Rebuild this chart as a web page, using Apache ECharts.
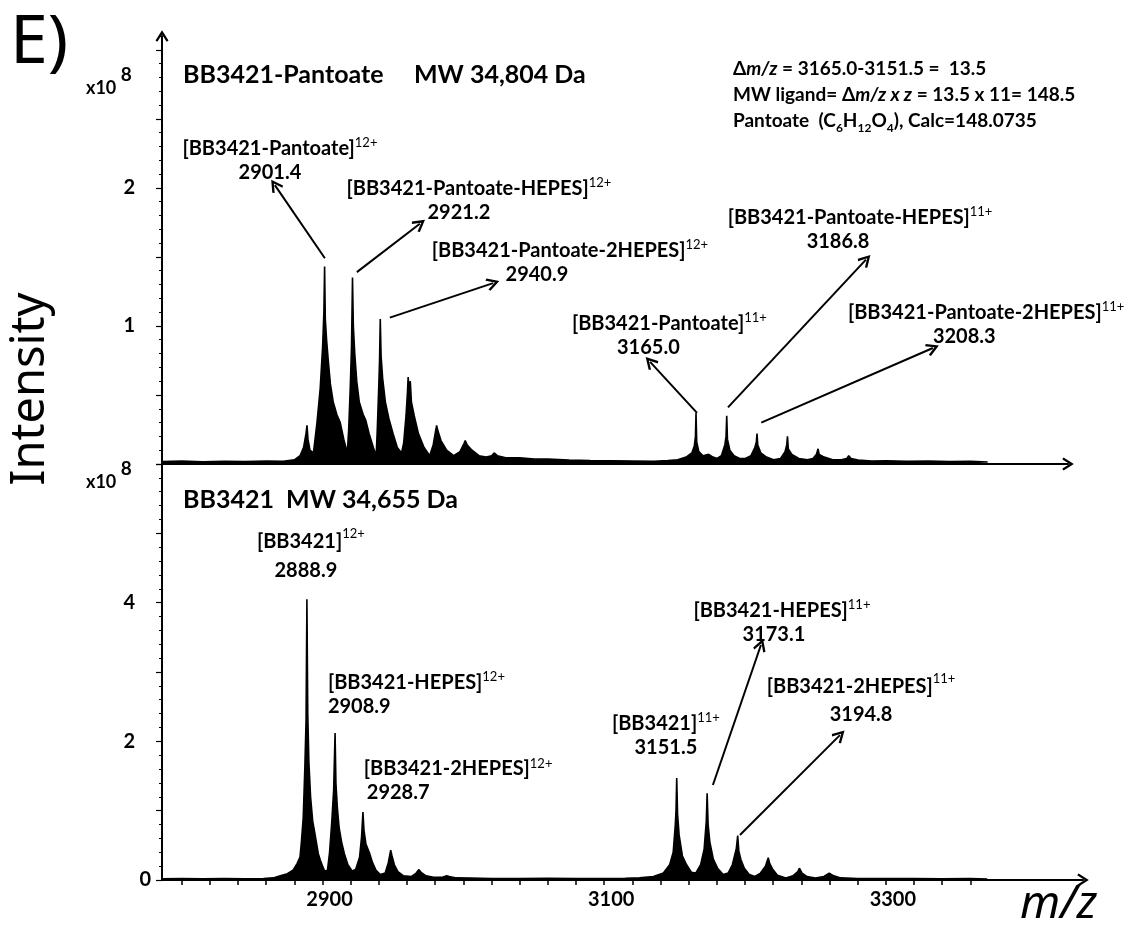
<!DOCTYPE html>
<html>
<head>
<meta charset="utf-8">
<script src="https://cdn.jsdelivr.net/npm/echarts@6/dist/echarts.min.js"></script>
<style>
  html, body { margin: 0; padding: 0; background: #fff; }
  #chart { width: 1135px; height: 930px; }
</style>
</head>
<body>
<div id="chart"></div>
<script>
// ---------- spectra: m/z and intensity (x10^8) ----------
// BB3421-Pantoate
const topMz = [
  2786, 2800, 2815, 2830, 2845, 2860, 2872, 2880, 2884, 2886.5, 2888.2, 2888.9, 2889.6, 2891, 2893.5,
  2896.0, 2898.3, 2900.0, 2900.9, 2901.4, 2901.9, 2902.8, 2904.0, 2905.5, 2907.5, 2908.9, 2910.0, 2912.5, 2915.0, 2917.5,
  2918.5, 2919.6, 2920.5, 2921.2, 2921.8, 2922.8, 2924.2, 2926.0, 2928.7, 2930.5, 2933, 2936, 2938,
  2938.8, 2939.8, 2940.4, 2940.9, 2941.5, 2942.6, 2944.5, 2947, 2950, 2953, 2956,
  2957.5, 2959.2, 2960.2, 2960.7, 2961.4, 2962.2, 2963, 2965, 2968, 2972, 2976,
  2978.5, 2980.2, 2980.9, 2981.8, 2984, 2988, 2993, 2997.5, 3000.4, 3001.2, 3002.5, 3006, 3011, 3016,
  3020, 3021.7, 3024, 3030, 3040, 3050, 3060, 3075, 3090, 3105, 3120, 3135, 3145, 3152, 3158,
  3162, 3163.8, 3164.6, 3165.0, 3165.5, 3167, 3170, 3174, 3177, 3180,
  3183, 3185.5, 3186.3, 3186.8, 3187.3, 3189, 3192, 3196, 3200,
  3204, 3206.8, 3207.8, 3208.3, 3208.8, 3211, 3215, 3220,
  3225, 3228.2, 3229.4, 3229.9, 3230.5, 3233, 3238, 3244,
  3248, 3250.5, 3251.6, 3252.4, 3256, 3262, 3268, 3272, 3273.4, 3275,
  3280, 3290, 3300, 3315, 3330, 3345, 3360, 3372
];
const topIntensity = [
  0.018, 0.022, 0.016, 0.02, 0.017, 0.022, 0.02, 0.03, 0.06, 0.12, 0.22, 0.28, 0.18, 0.10, 0.08,
  0.30, 0.55, 0.85, 1.10, 1.43, 1.05, 0.90, 0.75, 0.58, 0.45, 0.40, 0.36, 0.30, 0.18, 0.08,
  0.25, 0.55, 0.85, 1.35, 1.00, 0.80, 0.60, 0.45, 0.36, 0.32, 0.22, 0.12, 0.06,
  0.25, 0.55, 0.75, 1.05, 0.78, 0.62, 0.45, 0.33, 0.22, 0.12, 0.08,
  0.15, 0.35, 0.52, 0.63, 0.52, 0.60, 0.45, 0.35, 0.22, 0.12, 0.06,
  0.14, 0.24, 0.28, 0.24, 0.17, 0.10, 0.06, 0.09, 0.15, 0.17, 0.14, 0.10, 0.06, 0.05,
  0.06, 0.08, 0.06, 0.045, 0.045, 0.035, 0.035, 0.028, 0.025, 0.024, 0.022, 0.02, 0.025, 0.03, 0.05,
  0.08, 0.13, 0.20, 0.37, 0.16, 0.09, 0.06, 0.07, 0.05, 0.04,
  0.06, 0.14, 0.20, 0.35, 0.18, 0.10, 0.06, 0.04, 0.04,
  0.06, 0.12, 0.16, 0.22, 0.14, 0.08, 0.05, 0.03,
  0.04, 0.09, 0.14, 0.20, 0.11, 0.07, 0.04, 0.03,
  0.04, 0.07, 0.11, 0.07, 0.05, 0.03, 0.03, 0.04, 0.06, 0.04,
  0.028, 0.022, 0.024, 0.02, 0.022, 0.018, 0.02, 0.014
];
// BB3421
const bottomMz = [
  2786, 2800, 2815, 2830, 2845, 2858, 2865, 2870, 2875, 2879, 2882, 2884, 2885, 2886.3, 2887.4, 2888.3, 2888.9,
  2889.5, 2890.3, 2891.5, 2893, 2895, 2897, 2898.5, 2900, 2901.5,
  2903.5, 2905.0, 2906.6, 2907.9, 2908.9, 2909.5, 2910.5, 2911.8, 2913.5, 2915.5, 2918, 2921,
  2923.5, 2926.3, 2927.7, 2928.7, 2929.4, 2930.8, 2933.5, 2935.5, 2938, 2941,
  2944.5, 2946.7, 2948.4, 2949.3, 2951, 2953.5, 2957.5,
  2963, 2966.5, 2968.3, 2970, 2973.5, 2979, 2985, 2988.2, 2990, 2995,
  3005, 3020, 3040, 3060, 3080, 3100, 3115, 3125, 3135, 3142, 3146.5, 3149,
  3150.5, 3151.0, 3151.5, 3152.1, 3153.2, 3155.5, 3158.5, 3162, 3165,
  3168.5, 3171, 3172.5, 3173.1, 3173.8, 3175, 3177.5, 3180.5, 3184.5,
  3188, 3191, 3193.8, 3194.8, 3195.6, 3197, 3199.5, 3203, 3207,
  3211, 3214.5, 3216.5, 3217.5, 3219.5, 3223, 3229,
  3234, 3237.5, 3238.6, 3240.5, 3244, 3250, 3256, 3259.8, 3263, 3268,
  3280, 3300, 3320, 3340, 3360, 3372
];
const bottomIntensity = [
  0.018, 0.022, 0.016, 0.02, 0.017, 0.022, 0.03, 0.06, 0.09, 0.14, 0.24, 0.33, 0.55, 0.90, 1.60, 2.30, 4.05,
  2.40, 1.70, 1.20, 0.85, 0.62, 0.38, 0.28, 0.20, 0.13,
  0.14, 0.40, 0.85, 1.30, 2.12, 1.40, 1.05, 0.75, 0.55, 0.38, 0.22, 0.13,
  0.15, 0.33, 0.62, 0.98, 0.72, 0.52, 0.38, 0.25, 0.14, 0.08,
  0.10, 0.25, 0.43, 0.35, 0.22, 0.12, 0.06,
  0.05, 0.10, 0.15, 0.11, 0.06, 0.04, 0.04, 0.06, 0.05, 0.03,
  0.028, 0.022, 0.02, 0.024, 0.02, 0.022, 0.025, 0.03, 0.05, 0.10, 0.22, 0.40,
  0.80, 1.00, 1.47, 0.95, 0.65, 0.35, 0.22, 0.11, 0.10,
  0.22, 0.45, 0.85, 1.25, 0.80, 0.55, 0.30, 0.17, 0.08,
  0.10, 0.22, 0.45, 0.64, 0.42, 0.30, 0.17, 0.08, 0.05,
  0.10, 0.20, 0.32, 0.24, 0.16, 0.07, 0.03,
  0.06, 0.12, 0.17, 0.10, 0.05, 0.03, 0.05, 0.10, 0.06, 0.03,
  0.022, 0.02, 0.022, 0.018, 0.02, 0.014
];

// ---------- tick labels ----------
const mzTickLabels = [2900, 3100, 3300];
const topIntensityLabels = [1, 2];
const bottomIntensityLabels = [2, 4];
const bottomZeroLabel = [0];

// ---------- peak assignments ----------
const topIons = ['[BB3421-Pantoate]', '[BB3421-Pantoate-HEPES]', '[BB3421-Pantoate-2HEPES]',
                 '[BB3421-Pantoate]', '[BB3421-Pantoate-HEPES]', '[BB3421-Pantoate-2HEPES]'];
const topCharges = ['12+', '12+', '12+', '11+', '11+', '11+'];
const topPeakMz = [2901.4, 2921.2, 2940.9, 3165.0, 3186.8, 3208.3];

const bottomIons = ['[BB3421]', '[BB3421-HEPES]', '[BB3421-2HEPES]',
                    '[BB3421]', '[BB3421-HEPES]', '[BB3421-2HEPES]'];
const bottomCharges = ['12+', '12+', '12+', '11+', '11+', '11+'];
const bottomPeakMz = [2888.9, 2908.9, 2928.7, 3151.5, 3173.1, 3194.8];

// ---------- panel texts ----------
const topTitle = 'BB3421-Pantoate     MW 34,804 Da';
const bottomTitle = 'BB3421  MW 34,655 Da';

// ---------- callout placement: anchor in axis units [m/z, intensity], second line nudge in px ----------
const topCalloutLayout = [
  { label: [2869.7, 2.20], nudge: -10, from: [2901.6, 1.49], to: [2866.1, 2.02] },
  { label: [3010.9, 1.91], nudge: -20, from: [2924.3, 1.39], to: [2969.0, 1.74] },
  { label: [3075.5, 1.46], nudge: -33, from: [2947.7, 1.06], to: [3021.0, 1.31] },
  { label: [3146.1, 0.93], nudge: -21, from: [3165.7, 0.37], to: [3132.4, 0.74] },
  { label: [3281.4, 1.70], nudge: -22, from: [3187.7, 0.41], to: [3285.6, 1.48] },
  { label: [3272.8, 1.01], nudge: 85, align: 'left', from: [3211.3, 0.30], to: [3333.1, 0.84] }
];
const bottomCalloutLayout = [
  { label: [2891.7, 4.67], nudge: -5, lineHeight: 29 },
  { label: [2903.8, 2.68], align: 'left' },
  { label: [2929.3, 1.43], nudge: 3, align: 'left' },
  { label: [3143.8, 2.09] },
  { label: [3226.2, 3.72], nudge: -8, from: [3177.2, 1.37], to: [3211.3, 3.39] },
  { label: [3282.4, 2.59], lineHeight: 28, from: [3196.4, 0.65], to: [3267.4, 2.09] }
];

const FONT = 'Lato';
const INK = '#000';
// open chevron arrow head, drawn pointing up and rotated by the library
const ARROW = 'path://M7,0 L14,11 L12,12.5 L7,4.5 L2,12.5 L0,11 Z';

function range(start, stop, step) {
  const out = [];
  for (let v = start; v <= stop + 1e-9; v += step) out.push(Math.round(v * 1000) / 1000);
  return out;
}

function calloutLabel(ion, charge, mz, layout) {
  const align = layout.align || 'center';
  const lh = layout.lineHeight || 24;
  const nudge = layout.nudge || 0;
  // move the value line sideways by padding one side of it
  let pad;
  if (align === 'left') pad = [0, 0, 0, Math.max(nudge, 0)];
  else pad = nudge >= 0 ? [0, 0, 0, 2 * nudge] : [0, -2 * nudge, 0, 0];
  return {
    show: true,
    position: 'inside',
    align: align,
    verticalAlign: 'middle',
    formatter: '{n|' + ion + '}{s|' + charge + '}\n{v|' + mz.toFixed(1) + '}',
    rich: {
      n: { fontFamily: FONT, fontSize: 20, fontWeight: 'bold', color: INK, lineHeight: lh, align: align },
      s: { fontFamily: FONT, fontSize: 13, color: INK, lineHeight: 14, verticalAlign: 'top', align: align },
      v: { fontFamily: FONT, fontSize: 20, fontWeight: 'bold', color: INK, lineHeight: lh, align: align, padding: pad }
    }
  };
}

function spectrumSeries(mz, intensity, xi, yi, ions, charges, peaks, layout) {
  return {
    type: 'line',
    xAxisIndex: xi,
    yAxisIndex: yi,
    data: mz.map((m, i) => [m, intensity[i]]),
    symbol: 'none',
    showSymbol: false,
    silent: true,
    lineStyle: { color: INK, width: 1.6 },
    areaStyle: { color: INK, opacity: 1 },
    z: 3,
    markLine: {
      silent: true,
      animation: false,
      symbol: ['none', ARROW],
      symbolSize: 13,
      lineStyle: { color: INK, width: 2, type: 'solid' },
      label: { show: false },
      data: layout.filter(c => c.from).map(c => [{ coord: c.from }, { coord: c.to }])
    },
    markPoint: {
      silent: true,
      animation: false,
      symbol: 'circle',
      symbolSize: 1,
      itemStyle: { color: 'rgba(0,0,0,0)' },
      data: ions.map((ion, i) => ({
        coord: layout[i].label,
        label: calloutLabel(ion, charges[i], peaks[i], layout[i])
      }))
    }
  };
}

const axisLineStyle = { color: INK, width: 2 };
const tickFont = { fontFamily: FONT, fontSize: 20, fontWeight: 'bold', color: INK };
const plain = v => String(v);

const option = {
  backgroundColor: '#fff',
  animation: false,
  grid: [
    { left: 162, top: 36, width: 906, height: 428, outerBoundsMode: 'none' },
    { left: 162, top: 464, width: 921, height: 416, outerBoundsMode: 'none' }
  ],
  xAxis: [
    {
      type: 'value', gridIndex: 0, min: 2786, max: 3429,
      axisLine: { show: true, lineStyle: axisLineStyle, symbol: ['none', ARROW], symbolSize: [13, 13] },
      axisTick: { show: false }, axisLabel: { show: false }, splitLine: { show: false }
    },
    {
      type: 'value', gridIndex: 1, min: 2786, max: 3440,
      axisLine: { show: true, lineStyle: axisLineStyle, symbol: ['none', ARROW], symbolSize: [13, 13] },
      axisTick: { show: true, length: 5, lineStyle: { color: INK, width: 1.5 }, customValues: range(2800, 3360, 20) },
      axisLabel: Object.assign({ show: true, margin: 10, padding: [0, 0, 0, 14], formatter: plain, customValues: mzTickLabels }, tickFont),
      splitLine: { show: false }
    }
  ],
  yAxis: [
    // upper panel: long ticks every 0.5, labels
    {
      type: 'value', gridIndex: 0, position: 'left', min: 0, max: 3.1,
      axisLine: { show: true, lineStyle: axisLineStyle, symbol: ['none', ARROW], symbolSize: [13, 13] },
      axisTick: { show: true, length: 6, lineStyle: { color: INK, width: 1.2 }, customValues: range(0, 3, 0.5) },
      axisLabel: Object.assign({ show: true, margin: 27, formatter: plain, customValues: topIntensityLabels }, tickFont),
      splitLine: { show: false }
    },
    // upper panel: short ticks every 0.1
    {
      type: 'value', gridIndex: 0, position: 'left', offset: 0, min: 0, max: 3.1,
      axisLine: { show: false },
      axisTick: { show: true, length: 3, lineStyle: { color: INK, width: 1 }, customValues: range(0, 3.1, 0.1) },
      axisLabel: { show: false }, splitLine: { show: false }
    },
    // lower panel: long ticks every 1, labels
    {
      type: 'value', gridIndex: 1, position: 'left', min: 0, max: 6,
      axisLine: { show: true, lineStyle: axisLineStyle },
      axisTick: { show: true, length: 6, lineStyle: { color: INK, width: 1.2 }, customValues: range(0, 6, 1) },
      axisLabel: Object.assign({ show: true, margin: 27, formatter: plain, customValues: bottomIntensityLabels }, tickFont),
      splitLine: { show: false }
    },
    // lower panel: short ticks every 0.2, zero label
    {
      type: 'value', gridIndex: 1, position: 'left', offset: 0, min: 0, max: 6,
      axisLine: { show: false },
      axisTick: { show: true, length: 3, lineStyle: { color: INK, width: 1 }, customValues: range(0, 6, 0.2) },
      axisLabel: Object.assign({ show: true, margin: 11, formatter: plain, customValues: bottomZeroLabel }, tickFont),
      splitLine: { show: false }
    }
  ],
  series: [
    spectrumSeries(topMz, topIntensity, 0, 0, topIons, topCharges, topPeakMz, topCalloutLayout),
    spectrumSeries(bottomMz, bottomIntensity, 1, 2, bottomIons, bottomCharges, bottomPeakMz, bottomCalloutLayout)
  ],
  graphic: [
    { type: 'text', x: 10, y: 44, style: { text: 'E)', fontFamily: 'Noto Sans', fontSize: 68, fill: INK, verticalAlign: 'middle' } },
    { type: 'text', x: 31, y: 389, rotation: Math.PI / 2,
      style: { text: 'Intensity', fontFamily: 'Noto Sans', fontSize: 47, fill: INK, align: 'center', verticalAlign: 'middle' } },
    { type: 'text', x: 1020, y: 905,
      style: { text: 'm/z', fontFamily: 'Noto Sans', fontStyle: 'italic', fontSize: 46, fill: INK, verticalAlign: 'middle' } },
    { type: 'text', x: 183, y: 75,
      style: { text: topTitle, fontFamily: FONT, fontSize: 25, fontWeight: 'bold', fill: INK, verticalAlign: 'middle' } },
    { type: 'text', x: 183, y: 500,
      style: { text: bottomTitle, fontFamily: FONT, fontSize: 25, fontWeight: 'bold', fill: INK, verticalAlign: 'middle' } },
    { type: 'text', x: 86, y: 88,
      style: { text: '{a|x10 }{b|8}', verticalAlign: 'middle',
        rich: { a: { fontFamily: FONT, fontSize: 18, fontWeight: 'bold', lineHeight: 46, fill: INK },
                b: { fontFamily: FONT, fontSize: 19, fontWeight: 'bold', lineHeight: 18, verticalAlign: 'top', fill: INK } } } },
    { type: 'text', x: 86, y: 482,
      style: { text: '{a|x10 }{b|8}', verticalAlign: 'middle',
        rich: { a: { fontFamily: FONT, fontSize: 18, fontWeight: 'bold', lineHeight: 46, fill: INK },
                b: { fontFamily: FONT, fontSize: 19, fontWeight: 'bold', lineHeight: 18, verticalAlign: 'top', fill: INK } } } },
    { type: 'text', x: 733, y: 56,
      style: {
        text: '{b|\u0394}{i|m/z}{b| = 3165.0-3151.5 =  13.5}\n' +
              '{b|MW ligand= \u0394}{i|m/z x z}{b| = 13.5 x 11= 148.5}\n' +
              '{b|Pantoate  (C}{u|6}{b|H}{u|12}{b|O}{u|4}{b|), Calc=148.0735}',
        rich: {
          b: { fontFamily: FONT, fontSize: 19, fontWeight: 'bold', lineHeight: 26, fill: INK },
          i: { fontFamily: FONT, fontSize: 19, fontWeight: 'bold', fontStyle: 'italic', lineHeight: 26, fill: INK },
          u: { fontFamily: FONT, fontSize: 12, fontWeight: 'bold', lineHeight: 16, verticalAlign: 'bottom', fill: INK }
        }
      } }
  ]
};

const chart = echarts.init(document.getElementById('chart'), null, { renderer: 'canvas' });
chart.setOption(option);
</script>
</body>
</html>
